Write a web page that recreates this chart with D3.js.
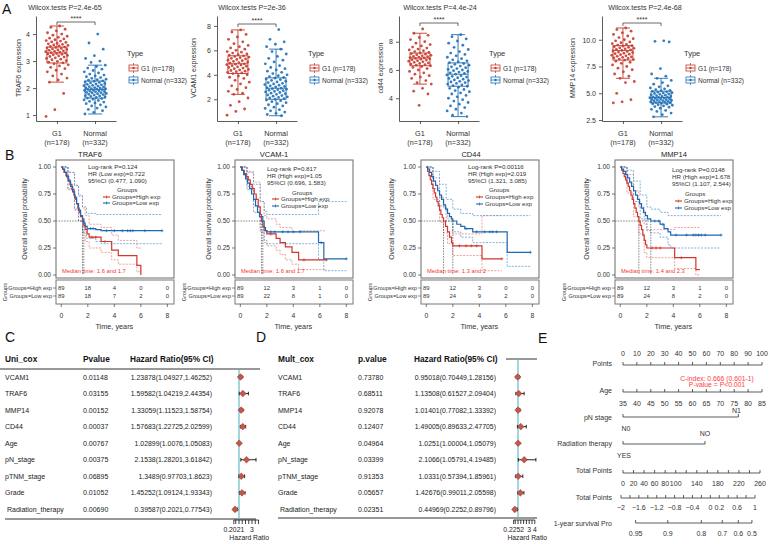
<!DOCTYPE html>
<html>
<head>
<meta charset="utf-8">
<script src="https://cdn.jsdelivr.net/npm/d3@7/dist/d3.min.js"></script>
<style>
html,body{margin:0;padding:0;background:#fff;}
svg{display:block;}
</style>
</head>
<body>
<svg id="chart" width="770" height="544"></svg>
<script>
// ================= DATA =================
// ---- Panel A : expression box plots ----
const boxGenes = ["TRAF6 expression","VCAM1 expression","cd44 expression","MMP14 expression"];
const boxTitles = ["Wilcox.tests P=2.4e-65","Wilcox.tests P=2e-36","Wilcox.tests P=4.4e-24","Wilcox.tests P=2.4e-68"];
const boxGroups = ["G1","Normal"];
const boxGroupN = ["(n=178)","(n=332)"];
const boxLegend = ["G1 (n=178)","Normal (n=332)"];
const boxYTicks = [[1,2,3,4],[2,4,6,8],[4,6,8],[2.5,5,7.5,10]];
const boxYDomains = [[0.78,4.67],[0.22,8.81],[2.39,9.82],[2.41,12.22]];
// [lower whisker, Q1, median, Q3, upper whisker]
const traf6G1Stats = [2.22,2.93,3.3,3.52,4.3];
const traf6NormalStats = [1.04,1.63,1.95,2.26,2.85];
const vcam1G1Stats = [2.4,4.1,4.9,5.55,7.67];
const vcam1NormalStats = [0.65,2.0,2.9,3.75,6.1];
const cd44G1Stats = [5.0,6.3,6.85,7.2,8.6];
const cd44NormalStats = [2.7,4.85,5.7,6.5,8.5];
const mmp14G1Stats = [6.4,8.1,9.0,9.45,11.1];
const mmp14NormalStats = [2.8,4.1,4.6,5.2,6.4];
const traf6G1 = [4.3,4.25,4.18,4.12,4.05,4.0,3.96,3.92,3.88,3.85,3.82,3.79,3.76,3.74,3.71,3.69,3.66,3.64,3.62,3.6,3.58,3.56,3.54,3.52,3.5,3.49,3.47,3.45,3.43,3.41,3.4,3.38,3.36,3.35,3.33,3.31,3.3,3.28,3.27,3.25,3.23,3.21,3.19,3.17,3.15,3.12,3.1,3.07,3.05,3.02,2.99,2.96,2.93,2.9,2.86,2.82,2.77,2.72,2.66,2.6,2.52,2.45,2.37,2.3,2.22,1.8,1.2,0.95];
const traf6Normal = [4.0,3.67,3.44,3.2,3.1,3.0,2.95,2.85,2.8,2.74,2.7,2.65,2.6,2.56,2.52,2.48,2.45,2.42,2.39,2.36,2.33,2.31,2.29,2.27,2.25,2.23,2.21,2.19,2.17,2.15,2.14,2.12,2.1,2.09,2.07,2.05,2.04,2.02,2.01,2.0,1.98,1.97,1.96,1.95,1.94,1.92,1.91,1.9,1.88,1.87,1.86,1.84,1.83,1.82,1.8,1.79,1.77,1.76,1.74,1.72,1.71,1.69,1.67,1.65,1.63,1.61,1.59,1.56,1.54,1.51,1.48,1.45,1.42,1.38,1.34,1.3,1.26,1.21,1.16,1.1,1.04];
const vcam1G1 = [7.67,7.5,7.3,7.1,6.9,6.7,6.55,6.4,6.3,6.2,6.1,6.0,5.9,5.85,5.78,5.7,5.65,5.6,5.55,5.5,5.45,5.4,5.35,5.3,5.25,5.2,5.15,5.1,5.05,5.0,4.95,4.9,4.87,4.83,4.8,4.75,4.7,4.65,4.6,4.55,4.5,4.45,4.4,4.35,4.3,4.25,4.2,4.15,4.1,4.0,3.9,3.8,3.7,3.55,3.4,3.25,3.1,2.95,2.8,2.65,2.5,2.4,2.1,1.8,1.5,1.2,1.0,0.7];
const vcam1Normal = [7.7,6.9,6.7,6.5,6.3,6.1,5.9,5.7,5.5,5.35,5.2,5.05,4.9,4.75,4.6,4.5,4.4,4.3,4.2,4.1,4.0,3.92,3.85,3.78,3.72,3.66,3.6,3.54,3.48,3.42,3.36,3.3,3.25,3.2,3.15,3.1,3.05,3.0,2.95,2.9,2.86,2.82,2.78,2.74,2.7,2.65,2.6,2.55,2.5,2.45,2.4,2.35,2.3,2.25,2.2,2.15,2.1,2.05,2.0,1.94,1.88,1.8,1.72,1.64,1.55,1.45,1.35,1.25,1.15,1.05,0.95,0.85,0.75,0.65];
const cd44G1 = [8.9,8.6,8.45,8.3,8.15,8.0,7.9,7.8,7.7,7.62,7.55,7.48,7.42,7.36,7.3,7.25,7.2,7.16,7.12,7.08,7.04,7.0,6.97,6.94,6.91,6.88,6.85,6.82,6.79,6.76,6.73,6.7,6.66,6.62,6.58,6.54,6.5,6.46,6.42,6.38,6.34,6.3,6.24,6.18,6.1,6.0,5.9,5.8,5.7,5.6,5.5,5.4,5.25,5.1,5.0,4.7,4.5,4.3,3.5];
const cd44Normal = [8.5,8.35,8.2,8.05,7.9,7.75,7.6,7.45,7.3,7.2,7.1,7.0,6.9,6.8,6.72,6.65,6.58,6.52,6.46,6.4,6.34,6.28,6.22,6.16,6.1,6.05,6.0,5.95,5.9,5.85,5.8,5.75,5.7,5.65,5.6,5.55,5.5,5.45,5.4,5.35,5.3,5.25,5.2,5.15,5.1,5.05,5.0,4.95,4.9,4.85,4.78,4.7,4.62,4.54,4.46,4.38,4.3,4.2,4.1,4.0,3.9,3.8,3.7,3.58,3.46,3.34,3.22,3.1,2.95,2.8,2.7];
const mmp14G1 = [11.1,10.95,10.8,10.65,10.5,10.35,10.2,10.1,10.0,9.9,9.8,9.72,9.64,9.56,9.5,9.45,9.4,9.35,9.3,9.25,9.2,9.15,9.1,9.05,9.0,8.95,8.9,8.85,8.8,8.75,8.7,8.65,8.6,8.55,8.5,8.45,8.4,8.35,8.3,8.25,8.2,8.15,8.1,8.0,7.9,7.8,7.65,7.5,7.35,7.2,7.0,6.8,6.6,6.4,6.1,6.0,5.0,4.4,4.2,4.1];
const mmp14Normal = [9.9,9.85,9.8,7.3,6.8,6.6,6.4,6.2,6.0,5.85,5.7,5.6,5.5,5.42,5.35,5.28,5.22,5.18,5.14,5.1,5.06,5.02,4.98,4.94,4.9,4.86,4.82,4.78,4.74,4.7,4.67,4.64,4.61,4.58,4.55,4.52,4.49,4.46,4.43,4.4,4.37,4.34,4.31,4.28,4.25,4.22,4.19,4.16,4.13,4.1,4.06,4.02,3.98,3.93,3.88,3.82,3.76,3.7,3.6,3.5,3.4,3.3,3.15,3.0,2.8];

// ---- Panel B : Kaplan-Meier ----
const kmGenes = ["TRAF6","VCAM-1","CD44","MMP14"];
const kmStats = [
  ["Log-rank P=0.124","HR (Low exp)=0.722","95%CI (0.477, 1.090)"],
  ["Log-rank P=0.817","HR (High exp)=1.05","95%CI (0.696, 1.583)"],
  ["Log-rank P=0.00116","HR (High exp)=2.019","95%CI (1.321, 3.085)"],
  ["Log-rank P=0.0148","HR (High exp)=1.678","95%CI (1.107, 2.544)"]];
const kmMedianText = ["Median time: 1.6 and 1.7","Median time: 1.6 and 1.7","Median time: 1.3 and 2","Median time: 1.4 and 2.3"];
const kmMedians = [[1.6,1.7],[1.6,1.7],[1.3,2.0],[1.4,2.3]];
const kmGroupNames = ["Groups=High exp","Groups=Low exp"];
const kmTimeTicks = [0,2,4,6,8];
const kmSurvTicks = [0,0.25,0.5,0.75,1];
const riskHigh = [[89,18,4,0,0],[89,12,3,1,0],[89,12,3,0,0],[89,12,3,1,0]];
const riskLow  = [[89,18,7,2,0],[89,22,8,1,0],[89,24,9,2,0],[89,24,8,2,0]];
const kmHighEnd = [6.0,6.5,5.7,6.0];
const kmLowEnd = [7.6,8.0,7.85,7.6];
const traf6High = [[0,1],[0.1,0.98],[0.2,0.95],[0.35,0.92],[0.5,0.88],[0.65,0.84],[0.8,0.79],[0.95,0.74],[1.05,0.7],[1.15,0.66],[1.25,0.62],[1.35,0.58],[1.45,0.54],[1.6,0.5],[1.7,0.46],[1.8,0.42],[1.95,0.38],[2.1,0.35],[3.0,0.31],[3.8,0.23],[4.3,0.18],[5.7,0.09],[6.0,0]];
const traf6Low = [[0,1],[0.1,0.98],[0.25,0.95],[0.4,0.91],[0.55,0.87],[0.7,0.82],[0.85,0.77],[1.0,0.72],[1.15,0.66],[1.3,0.6],[1.45,0.55],[1.6,0.52],[1.7,0.48],[1.8,0.45],[1.95,0.43],[2.6,0.42],[3.0,0.41]];
const vcamHigh = [[0,1],[0.15,0.97],[0.3,0.94],[0.45,0.91],[0.6,0.88],[0.75,0.84],[0.9,0.8],[1.05,0.75],[1.2,0.7],[1.35,0.63],[1.5,0.56],[1.6,0.5],[1.7,0.45],[1.8,0.41],[2.0,0.38],[2.7,0.34],[3.0,0.3],[3.4,0.26],[3.9,0.21],[4.4,0.14]];
const vcamLow = [[0,1],[0.1,0.97],[0.25,0.93],[0.4,0.89],[0.55,0.85],[0.7,0.8],[0.85,0.75],[1.0,0.7],[1.15,0.64],[1.3,0.58],[1.45,0.54],[1.7,0.5],[1.8,0.44],[1.9,0.41],[2.0,0.4],[5.9,0.3],[6.3,0.15]];
const cd44High = [[0,1],[0.1,0.96],[0.2,0.92],[0.3,0.88],[0.4,0.84],[0.5,0.8],[0.6,0.76],[0.7,0.72],[0.8,0.68],[0.9,0.64],[1.0,0.6],[1.1,0.56],[1.2,0.53],[1.3,0.5],[1.45,0.45],[1.6,0.4],[1.75,0.35],[1.9,0.3],[2.0,0.27],[4.2,0.15]];
const cd44Low = [[0,1],[0.1,0.98],[0.25,0.95],[0.4,0.91],[0.55,0.87],[0.7,0.83],[0.85,0.78],[1.0,0.74],[1.15,0.7],[1.3,0.65],[1.45,0.61],[1.6,0.57],[1.75,0.54],[1.9,0.52],[2.0,0.5],[2.3,0.47],[2.6,0.45],[2.9,0.43],[3.5,0.4],[6.1,0.21]];
const mmp14High = [[0,1],[0.1,0.97],[0.2,0.94],[0.3,0.91],[0.4,0.88],[0.5,0.85],[0.6,0.82],[0.7,0.78],[0.8,0.74],[0.9,0.7],[1.0,0.66],[1.1,0.62],[1.2,0.58],[1.3,0.54],[1.4,0.5],[1.5,0.46],[1.6,0.42],[1.7,0.37],[1.8,0.32],[1.9,0.28],[2.0,0.25],[4.1,0.16],[5.7,0.05]];
const mmp14Low = [[0,1],[0.1,0.98],[0.25,0.96],[0.4,0.93],[0.55,0.9],[0.7,0.86],[0.85,0.82],[1.0,0.78],[1.15,0.74],[1.3,0.7],[1.45,0.66],[1.6,0.62],[1.75,0.58],[1.9,0.55],[2.05,0.52],[2.3,0.5],[3.0,0.47],[3.3,0.43],[3.6,0.4],[3.8,0.37]];
const traf6HighCI = [[[0,1],[0.5,0.95],[1.0,0.83],[1.3,0.74],[1.6,0.62],[1.8,0.55],[2.1,0.47],[3.0,0.44],[3.8,0.37],[4.3,0.32],[5.7,0.25]],
                     [[0,1],[0.5,0.8],[1.0,0.6],[1.3,0.5],[1.6,0.39],[1.8,0.31],[2.1,0.25],[3.0,0.21],[3.8,0.14],[4.3,0.1],[5.7,0.03]]];
const traf6LowCI = [[[0,1],[0.5,0.95],[1.0,0.83],[1.3,0.73],[1.6,0.63],[1.9,0.57],[2.6,0.56]],
                    [[0,1],[0.5,0.79],[1.0,0.61],[1.3,0.5],[1.6,0.4],[1.9,0.34],[2.6,0.31],[3.0,0.29]]];
const vcamHighCI = [[[0,1],[0.5,0.96],[1.0,0.86],[1.5,0.68],[1.8,0.55],[2.0,0.52],[2.7,0.47],[3.0,0.44],[3.9,0.4],[4.4,0.41]],
                    [[0,1],[0.5,0.82],[1.0,0.64],[1.5,0.42],[1.8,0.3],[2.0,0.27],[2.7,0.23],[3.0,0.19],[3.4,0.14],[3.9,0.1],[4.4,0.05]]];
const vcamLowCI = [[[0,1],[0.5,0.95],[1.0,0.84],[1.5,0.68],[1.8,0.59],[2.0,0.56],[5.9,0.68]],
                   [[0,1],[0.5,0.79],[1.0,0.58],[1.5,0.4],[1.8,0.32],[2.0,0.29],[5.9,0.14],[6.3,0.04]]];
const cd44HighCI = [[[0,1],[0.5,0.9],[1.0,0.72],[1.3,0.62],[1.6,0.52],[2.0,0.38],[4.2,0.55]],
                    [[0,1],[0.5,0.7],[1.0,0.49],[1.3,0.39],[1.6,0.29],[2.0,0.18],[4.2,0.04]]];
const cd44LowCI = [[[0,1],[0.5,0.96],[1.0,0.84],[1.5,0.7],[2.0,0.61],[2.6,0.57],[3.5,0.55]],
                   [[0,1],[0.5,0.8],[1.0,0.64],[1.5,0.5],[2.0,0.4],[2.6,0.35],[3.5,0.3],[6.1,0.08]]];
const mmp14HighCI = [[[0,1],[0.5,0.93],[1.0,0.78],[1.4,0.63],[1.8,0.47],[2.0,0.42],[4.1,0.44]],
                     [[0,1],[0.5,0.76],[1.0,0.54],[1.4,0.38],[1.8,0.21],[2.0,0.16],[4.1,0.06],[5.7,0]]];
const mmp14LowCI = [[[0,1],[0.5,0.97],[1.0,0.87],[1.5,0.74],[2.0,0.63],[2.3,0.61],[3.0,0.58],[3.6,0.55]],
                    [[0,1],[0.5,0.85],[1.0,0.68],[1.5,0.52],[2.0,0.41],[2.3,0.39],[3.0,0.35],[3.6,0.28],[3.8,0.25]]];
const censorHigh = [[2.3,2.6,3.3],[2.3,4.8,6.5],[2.5,3.0,3.4,3.8,5.7],[2.4,2.7,3.0,4.6]];
const censorLow = [[2.2,2.4,3.4,4.0,4.6,5.0,5.2,5.4,6.3,7.6],[2.3,2.6,3.2,3.6,4.0,4.5,6.1,8.0],[3.0,3.8,4.4,4.8,5.0,5.3,7.85],[2.6,2.9,3.2,4.2,5.0,5.5,5.7,5.9,6.1,6.4,7.6]];

// ---- Panels C / D : Cox tables ----
const coxVars = ["VCAM1","TRAF6","MMP14","CD44","Age","pN_stage","pTNM_stage","Grade","Radiation_therapy"];
const uniP = ["0.01148","0.03155","0.00152","0.00037","0.00767","0.00375","0.06895","0.01052","0.00690"];
const uniHR = [1.23878,1.59582,1.33059,1.57683,1.02899,2.1538,1.3489,1.45252,0.39587];
const uniLo = [1.04927,1.04219,1.11523,1.22725,1.0076,1.28201,0.97703,1.09124,0.2021];
const uniHi = [1.46252,2.44354,1.58754,2.02599,1.05083,3.61842,1.8623,1.93343,0.77543];
const multP = ["0.73780","0.68511","0.92078","0.12407","0.04964","0.03399","0.91353","0.05657","0.02351"];
const multHR = [0.95018,1.13508,1.01401,1.49005,1.0251,2.1066,1.0331,1.42676,0.44969];
const multLo = [0.70449,0.61527,0.77082,0.89633,1.00004,1.05791,0.57394,0.99011,0.2252];
const multHi = [1.28156,2.09404,1.33392,2.47705,1.05079,4.19485,1.85961,2.05598,0.89796];
const uniAxisTicks = [0.2021,0.5,1,1.5,2,2.5,3,3.5,4];
const uniAxisLabels = ["0.2021","3"];
const multAxisTicks = [0.2252,0.5,1,1.5,2,2.5,3,3.5,4];
const multAxisLabels = ["0.2252","3","4"];

// ---- Panel E : nomogram ----
const nomoPointTicks = [0,10,20,30,40,50,60,70,80,90,100];
const nomoAgeTicks = [35,40,45,50,55,60,65,70,75,80,85];
const nomoPN = ["N0","N1"], nomoPNPoints = [0,83];
const nomoRad = ["YES","NO"], nomoRadPoints = [0,59];
const nomoTotalTicks = [0,20,40,60,80,100,120,140,160,180,200,220,240,260];
const nomoTotalLabels = [0,20,40,60,80,100,140,180,220,260];
const nomoLPTicks = [-2,-1.8,-1.6,-1.4,-1.2,-1,-0.8,-0.6,-0.4,-0.2,0,0.2,0.4,0.6,0.8,1];
const nomoLPLabels = [-2,-1.6,-1.2,-0.8,-0.4,0,0.2,0.6,1];
const nomoSurvTicks = [0.95,0.9,0.8,0.7,0.6,0.5];
const nomoBaseSurv = 0.761;

// ================= DRAWING =================
const FF = "'Liberation Sans', Arial, Helvetica, sans-serif";
const svg = d3.select("#chart").style("font-family", FF);
const RED = "#C63B2D", BLUE = "#1F70B6";
const KRED = "#D2362C", KBLUE = "#1E69B3";
function label(x,y,s,size,anchor,color,weight){
  return svg.append("text").attr("x",x).attr("y",y).attr("font-size",size)
    .attr("text-anchor",anchor||"start").attr("fill",color||"#222")
    .attr("font-weight",weight||"normal").text(s);
}
function styleAxis(a,size){
  a.attr("font-family",FF);
  a.selectAll("path,line").attr("stroke","#333").attr("stroke-width",0.8);
  a.selectAll("text").attr("font-size",size).attr("fill","#333");
}

// Panel letters
label(2,14,"A",14,"start","#111");
label(5,160,"B",14,"start","#111");
label(5,342,"C",14,"start","#111");
label(256,342,"D",14,"start","#111");
label(538,343,"E",14,"start","#111");

// ---- Panel A ----
const boxStats = [[traf6G1Stats,traf6NormalStats],[vcam1G1Stats,vcam1NormalStats],[cd44G1Stats,cd44NormalStats],[mmp14G1Stats,mmp14NormalStats]];
const boxPoints = [[traf6G1,traf6Normal],[vcam1G1,vcam1Normal],[cd44G1,cd44Normal],[mmp14G1,mmp14Normal]];
const boxFormats = [d3.format("d"),d3.format("d"),d3.format("d"),d3.format(".1f")];
const aLeft=[36,217,399,602], aW=80, aTop=16, aBot=121;
const aTitleX=[65,252,440,645], aSigY=[22,24,23,23], aYLabX=[18,193,380,572], aLegX=[127,308,489,684];
const grpColors=[RED,BLUE];
for(let k=0;k<4;k++){
  const L=aLeft[k];
  const y=d3.scaleLinear().domain(boxYDomains[k]).range([aBot,aTop]);
  const x=d3.scalePoint().domain(boxGroups).range([L,L+aW]).padding(0.55);
  const ya=svg.append("g").attr("transform",`translate(${L},0)`)
    .call(d3.axisLeft(y).tickValues(boxYTicks[k]).tickFormat(boxFormats[k]).tickSize(3).tickSizeOuter(0));
  styleAxis(ya,7);
  const xa=svg.append("g").attr("transform",`translate(0,${aBot})`)
    .call(d3.axisBottom(x).tickSize(3).tickSizeOuter(0).tickFormat(""));
  styleAxis(xa,7);
  boxGroups.forEach((gn,j)=>{
    label(x(gn),136,gn,7.3,"middle","#333");
    label(x(gn),145,boxGroupN[j],7.3,"middle","#333");
    const cx=x(gn), s=boxStats[k][j], col=grpColors[j];
    const g=svg.append("g").attr("stroke",col).attr("stroke-width",0.9).attr("fill","none");
    g.append("rect").attr("x",cx-10).attr("width",20).attr("y",y(s[3])).attr("height",y(s[1])-y(s[3]));
    g.append("line").attr("x1",cx-10).attr("x2",cx+10).attr("y1",y(s[2])).attr("y2",y(s[2]));
    g.append("line").attr("x1",cx).attr("x2",cx).attr("y1",y(s[3])).attr("y2",y(s[4]));
    g.append("line").attr("x1",cx).attr("x2",cx).attr("y1",y(s[1])).attr("y2",y(s[0]));
    g.append("line").attr("x1",cx-7).attr("x2",cx+7).attr("y1",y(s[4])).attr("y2",y(s[4]));
    g.append("line").attr("x1",cx-7).attr("x2",cx+7).attr("y1",y(s[0])).attr("y2",y(s[0]));
    svg.append("g").selectAll("circle").data(boxPoints[k][j]).join("circle")
      .attr("cx",(d,i)=>cx+(((i+1)*0.618034)%1-0.5)*23)
      .attr("cy",d=>y(d)).attr("r",1.4).attr("fill",col).attr("opacity",0.9);
  });
  const x1=x("G1"), x2=x("Normal"), sy=aSigY[k];
  svg.append("path").attr("d",`M${x1},${sy+3}V${sy}H${x2}V${sy+3}`).attr("stroke","#444").attr("stroke-width",0.8).attr("fill","none");
  label((x1+x2)/2,sy-1.5,"****",7,"middle","#333");
  label(aTitleX[k],10,boxTitles[k],7.2,"middle","#333");
  svg.append("text").attr("transform",`translate(${aYLabX[k]+2.5},68) rotate(-90)`)
    .attr("text-anchor","middle").attr("font-size",7).attr("fill","#333").text(boxGenes[k]);
  const lx=aLegX[k];
  label(lx,56,"Type",7.5,"start","#333");
  [68,80].forEach((yc,j)=>{
    const col=grpColors[j];
    const g=svg.append("g").attr("stroke",col).attr("stroke-width",0.8).attr("fill","none");
    g.append("rect").attr("x",lx+2).attr("y",yc-3).attr("width",9).attr("height",6);
    g.append("line").attr("x1",lx+2).attr("x2",lx+11).attr("y1",yc).attr("y2",yc);
    g.append("line").attr("x1",lx+6.5).attr("x2",lx+6.5).attr("y1",yc-5).attr("y2",yc-3);
    g.append("line").attr("x1",lx+6.5).attr("x2",lx+6.5).attr("y1",yc+3).attr("y2",yc+5);
    svg.append("circle").attr("cx",lx+6.5).attr("cy",yc).attr("r",1.2).attr("fill",col);
    label(lx+14,yc+2.5,boxLegend[j],6.6,"start","#333");
  });
}

// ---- Panel B ----
const kmHighAll=[traf6High,vcamHigh,cd44High,mmp14High];
const kmLowAll=[traf6Low,vcamLow,cd44Low,mmp14Low];
const kmHighCIAll=[traf6HighCI,vcamHighCI,cd44HighCI,mmp14HighCI];
const kmLowCIAll=[traf6LowCI,vcamLowCI,cd44LowCI,mmp14LowCI];
const kmLeft=[56,235,421,615], kmW=118, kmTop=160, kmBot=278;
const kmTitleX=[90,274,471,674], kmYLabX=[24,208,391,586];
const kmStatX=[88,267,468,672], kmStatY=[167,169,167,170];
const kmGrpX=[117,292,489,685], kmGrpY=[190,193,190,194];
const kmLegLX=[103,272,476,675], kmLegY1=[197,199,197,201], kmLegY2=[203,206,204,208];
function stepVal(arr,t){let v=arr[0][1];for(const p of arr){if(p[0]<=t)v=p[1];}return v;}
for(let k=0;k<4;k++){
  const L=kmLeft[k], R=L+kmW;
  const x=d3.scaleLinear().domain([-0.4,8.5]).range([L,R]);
  const y=d3.scaleLinear().domain([0,1]).range([275,167]);
  const line=d3.line().x(d=>x(d[0])).y(d=>y(d[1])).curve(d3.curveStepAfter);
  const withEnd=(a,e)=>a.concat([[e,a[a.length-1][1]]]);
  kmHighCIAll[k].forEach(c=>svg.append("path").attr("d",line(withEnd(c,kmHighEnd[k]))).attr("fill","none").attr("stroke","#E5786F").attr("stroke-width",0.7).attr("stroke-dasharray","2,1.3"));
  kmLowCIAll[k].forEach(c=>svg.append("path").attr("d",line(withEnd(c,kmLowEnd[k]))).attr("fill","none").attr("stroke","#4B92D2").attr("stroke-width",0.7).attr("stroke-dasharray","2,1.3"));
  const med=kmMedians[k];
  svg.append("line").attr("x1",L).attr("x2",x(d3.max(med))).attr("y1",y(0.5)).attr("y2",y(0.5)).attr("stroke","#333").attr("stroke-width",0.6).attr("stroke-dasharray","1.5,1.2");
  med.forEach(m=>svg.append("line").attr("x1",x(m)).attr("x2",x(m)).attr("y1",y(0.5)).attr("y2",y(0)).attr("stroke","#333").attr("stroke-width",0.6).attr("stroke-dasharray","1.5,1.2"));
  svg.append("path").attr("d",line(withEnd(kmHighAll[k],kmHighEnd[k]))).attr("fill","none").attr("stroke",KRED).attr("stroke-width",1.2);
  svg.append("path").attr("d",line(withEnd(kmLowAll[k],kmLowEnd[k]))).attr("fill","none").attr("stroke",KBLUE).attr("stroke-width",1.2);
  const cross=(t,arr,col)=>{const cx=x(t),cy=y(stepVal(arr,t));
    svg.append("path").attr("d",`M${cx-1.5},${cy}H${cx+1.5}M${cx},${cy-1.5}V${cy+1.5}`).attr("stroke",col).attr("stroke-width",0.7);};
  censorHigh[k].forEach(t=>cross(t,kmHighAll[k],KRED));
  censorLow[k].forEach(t=>cross(t,kmLowAll[k],KBLUE));
  svg.append("rect").attr("x",L).attr("y",kmTop).attr("width",kmW).attr("height",kmBot-kmTop).attr("fill","none").attr("stroke","#777").attr("stroke-width",1.1);
  kmSurvTicks.forEach(v=>{
    svg.append("line").attr("x1",L-3).attr("x2",L).attr("y1",y(v)).attr("y2",y(v)).attr("stroke","#444").attr("stroke-width",0.7);
    label(L-5,y(v)+2.3,d3.format(".2f")(v),6.6,"end","#333");
  });
  svg.append("text").attr("transform",`translate(${kmYLabX[k]+2.5},${(kmTop+kmBot)/2}) rotate(-90)`)
    .attr("text-anchor","middle").attr("font-size",7).attr("fill","#333").text("Overall survival probability");
  label(kmTitleX[k],156.5,kmGenes[k],7.5,"middle","#222");
  kmStats[k].forEach((s,i)=>label(kmStatX[k],kmStatY[k]+2.2+i*6.8,s,6.2,"start","#333"));
  label(kmGrpX[k],kmGrpY[k]+2.2,"Groups",6.2,"start","#333");
  [[kmLegY1[k],KRED,kmGroupNames[0]],[kmLegY2[k],KBLUE,kmGroupNames[1]]].forEach(([ly,col,nm])=>{
    const lx=kmLegLX[k];
    svg.append("line").attr("x1",lx).attr("x2",lx+7).attr("y1",ly).attr("y2",ly).attr("stroke",col).attr("stroke-width",1.1);
    svg.append("path").attr("d",`M${lx+3.5},${ly-1.5}V${ly+1.5}`).attr("stroke",col).attr("stroke-width",0.7);
    label(lx+9,ly+2.2,nm,6.2,"start","#333");
  });
  label(L+6,273,kmMedianText[k],5.8,"start","#F03A30");
  svg.append("rect").attr("x",L).attr("y",280).attr("width",kmW).attr("height",24).attr("fill","none").attr("stroke","#777").attr("stroke-width",1);
  [[288,riskHigh[k],kmGroupNames[0]],[296,riskLow[k],kmGroupNames[1]]].forEach(([ry,vals,nm])=>{
    svg.append("line").attr("x1",L-3).attr("x2",L).attr("y1",ry).attr("y2",ry).attr("stroke","#444").attr("stroke-width",0.6);
    label(L-4,ry+2,nm,5.6,"end","#333");
    vals.forEach((v,i)=>label(x(kmTimeTicks[i]),ry+2,v,5.9,"middle","#333"));
  });
  svg.append("text").attr("transform",`translate(${L-49},292) rotate(-90)`).attr("text-anchor","middle")
    .attr("font-size",5.6).attr("fill","#333").text("Groups");
  kmTimeTicks.forEach(t=>{
    svg.append("line").attr("x1",x(t)).attr("x2",x(t)).attr("y1",304).attr("y2",307).attr("stroke","#444").attr("stroke-width",0.7);
    label(x(t),317.5,t,6.8,"middle","#333");
  });
  label(x(4),328.5,"Time, years",7.3,"middle","#333");
}

// ---- Panels C / D ----
const rowY=i=>377+i*16.55;
function forestTable(cfg){
  const {vars,pv,hr,lo,hi,title,pTitle,labX,pX,hrX,fx,ticks,tickLabels,lineTop,lineBot,botLine,headLine}=cfg;
  label(labX,362,title,8.3,"start","#111","bold");
  label(pX,362,pTitle,8.3,"start","#111","bold");
  label(hrX-82,362,"Hazard Ratio(95% CI)",8.3,"start","#111","bold");
  if(headLine) svg.append("line").attr("x1",headLine[0]).attr("x2",headLine[1]).attr("y1",headLine[2]).attr("y2",headLine[2]).attr("stroke","#333").attr("stroke-width",1);
  svg.append("line").attr("x1",botLine[0]).attr("x2",botLine[1]).attr("y1",botLine[2]).attr("y2",botLine[2]).attr("stroke","#333").attr("stroke-width",1);
  vars.forEach((v,i)=>{
    const yy=rowY(i);
    label(v==="Radiation_therapy"?labX+2:labX,yy+2.5,v,7,"start","#222");
    label(pX,yy+2.5,pv[i],7,"start","#222");
    label(hrX,yy+2.5,`${hr[i]}(${lo[i]},${hi[i]})`,6.9,"end","#222");
  });
  svg.append("line").attr("x1",fx(1)).attr("x2",fx(1)).attr("y1",lineTop).attr("y2",lineBot).attr("stroke","#62BEC6").attr("stroke-width",1.2);
  vars.forEach((v,i)=>{
    const yy=rowY(i);
    svg.append("line").attr("x1",fx(lo[i])).attr("x2",fx(hi[i])).attr("y1",yy).attr("y2",yy).attr("stroke","#111").attr("stroke-width",0.9);
    [lo[i],hi[i]].forEach(e=>svg.append("line").attr("x1",fx(e)).attr("x2",fx(e)).attr("y1",yy-1.8).attr("y2",yy+1.8).attr("stroke","#111").attr("stroke-width",0.9));
    const cx=fx(hr[i]);
    svg.append("path").attr("d",`M${cx-3.3},${yy}L${cx},${yy-3.3}L${cx+3.3},${yy}L${cx},${yy+3.3}Z`).attr("fill","#C4574B").attr("stroke","#8E2F27").attr("stroke-width",0.5);
  });
  ticks.forEach(t=>{
    svg.append("line").attr("x1",fx(t)).attr("x2",fx(t)).attr("y1",520).attr("y2",524).attr("stroke","#111").attr("stroke-width",0.8);
    const s=String(t);
    if(tickLabels.includes(s)) label(fx(t),532,s,6.8,"middle","#222");
  });
  svg.append("line").attr("x1",fx(ticks[0])).attr("x2",fx(ticks[ticks.length-1])).attr("y1",520).attr("y2",520).attr("stroke","#111").attr("stroke-width",0.8);
  label((fx(ticks[0])+fx(ticks[ticks.length-1]))/2+3,540,"Hazard Ratio",6.8,"middle","#222");
}
const fxC=d3.scaleLinear().domain([1,4]).range([239,258.5]);
const fxD=d3.scaleLinear().domain([1,4]).range([518,534.8]);
forestTable({vars:coxVars,pv:uniP,hr:uniHR,lo:uniLo,hi:uniHi,title:"Uni_cox",pTitle:"Pvalue",labX:5,pX:83,hrX:212,fx:fxC,
  ticks:uniAxisTicks,tickLabels:uniAxisLabels,lineTop:369,lineBot:519,botLine:[5,256,519],headLine:[0,260,369]});
forestTable({vars:coxVars,pv:multP,hr:multHR,lo:multLo,hi:multHi,title:"Mult_cox",pTitle:"p.value",labX:278,pX:358,hrX:496,fx:fxD,
  ticks:multAxisTicks,tickLabels:multAxisLabels,lineTop:359,lineBot:518,botLine:[278,537,518],headLine:[506,537,359]});

// ---- Panel E : nomogram ----
const ptsX=d3.scaleLinear().domain([0,100]).range([623,762]);
const ageX=d3.scaleLinear().domain([35,85]).range([623,762]);
const totX=d3.scaleLinear().domain([0,260]).range([623,760]);
const lpX=d3.scaleLinear().domain([-2,1]).range([621,755]);
const survX=s=>lpX(Math.log(Math.log(s)/Math.log(nomoBaseSurv)));
const NC="#333", NF=7;
function hline(x1,x2,yy){svg.append("line").attr("x1",x1).attr("x2",x2).attr("y1",yy).attr("y2",yy).attr("stroke",NC).attr("stroke-width",0.8);}
function tick(xx,yy){svg.append("line").attr("x1",xx).attr("x2",xx).attr("y1",yy-3).attr("y2",yy).attr("stroke",NC).attr("stroke-width",0.8);}
const fmtNum=v=>(v<0?"\u2212":"")+String(Math.abs(v));
label(612,365.5,"Points",NF,"end",NC);
hline(ptsX(0),ptsX(100),365);
nomoPointTicks.forEach(v=>{tick(ptsX(v),365);label(ptsX(v),355.5,v,NF,"middle",NC);});
label(612,392.5,"Age",NF,"end",NC);
hline(ageX(35),ageX(85),392);
nomoAgeTicks.forEach(v=>{tick(ageX(v),392);label(ageX(v),405.5,v,NF,"middle",NC);});
label(717,380.5,"C-index: 0.666 (0.601-1)",6.8,"middle","#FF3B3B");
label(717,387,"P-value = P<0.001",6.8,"middle","#FF3B3B");
label(612,419.5,"pN stage",NF,"end",NC);
hline(ptsX(nomoPNPoints[0]),ptsX(nomoPNPoints[1]),417);
nomoPNPoints.forEach(p=>tick(ptsX(p),417));
label(ptsX(nomoPNPoints[1])-2,412.5,nomoPN[1],NF,"middle",NC);
label(ptsX(nomoPNPoints[0])+3,430.5,nomoPN[0],NF,"middle",NC);
label(612,445.5,"Radiation therapy",NF,"end",NC);
hline(ptsX(nomoRadPoints[0]),ptsX(nomoRadPoints[1]),444);
nomoRadPoints.forEach(p=>tick(ptsX(p),444));
label(ptsX(nomoRadPoints[1]),435.5,nomoRad[1],NF,"middle",NC);
label(ptsX(nomoRadPoints[0])+1,457.5,nomoRad[0],NF,"middle",NC);
label(612,472.5,"Total Points",NF,"end",NC);
hline(totX(0),totX(260),473);
nomoTotalTicks.forEach(v=>tick(totX(v),473));
nomoTotalLabels.forEach(v=>label(totX(v),485.5,v,NF,"middle",NC));
label(612,499.5,"Total Points",NF,"end",NC);
hline(lpX(-2),lpX(1),498);
nomoLPTicks.forEach(v=>tick(lpX(v),498));
nomoLPLabels.forEach(v=>label(lpX(v),509.5,fmtNum(v),NF,"middle",NC));
label(612,525.5,"1-year survival Pro",NF,"end",NC);
hline(survX(0.95),survX(0.5),523);
nomoSurvTicks.forEach(v=>{tick(survX(v),523);label(survX(v),535.5,v,NF,"middle",NC);});
</script>
</body>
</html>
